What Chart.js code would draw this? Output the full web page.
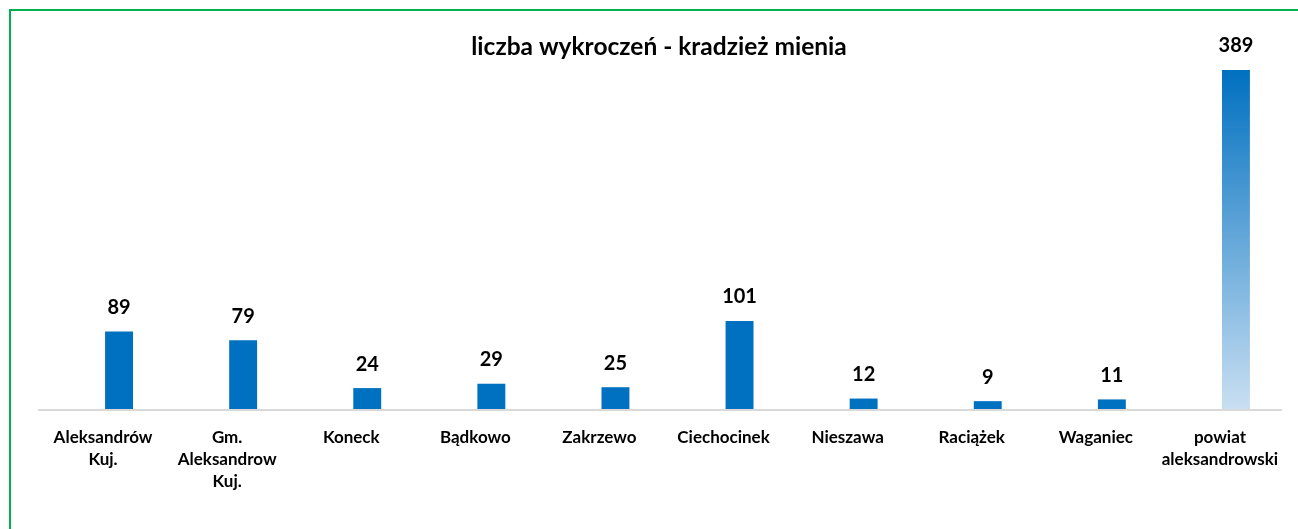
<!DOCTYPE html>
<html>
<head>
<meta charset="utf-8">
<script src="https://cdn.jsdelivr.net/npm/chart.js@4"></script>
<style>
  html, body { margin: 0; padding: 0; background: #fff; }
  #wrap { position: relative; width: 1298px; height: 529px; overflow: hidden; }
  #frame {
    position: absolute; left: 9px; top: 9px; right: -10px; bottom: -10px;
    border-left: 2px solid #00B050; border-top: 2px solid #00B050;
  }
  canvas { position: absolute; left: 0; top: 0; }
</style>
</head>
<body>
<div id="wrap">
  <div id="frame"></div>
  <canvas id="chart"></canvas>
</div>
<script>
const title = 'liczba wykroczeń - kradzież mienia';
const categories = [
  ['Aleksandrów', 'Kuj.'],
  ['Gm.', 'Aleksandrow', 'Kuj.'],
  'Koneck',
  'Bądkowo',
  'Zakrzewo',
  'Ciechocinek',
  'Nieszawa',
  'Raciążek',
  'Waganiec',
  ['powiat', 'aleksandrowski']
];
const values = [89, 79, 24, 29, 25, 101, 12, 9, 11, 389];

const FONT = 'Lato, "Open Sans", sans-serif';

const canvas = document.getElementById('chart');
canvas.width = 1298;
canvas.height = 529;
const ctx = canvas.getContext('2d');

function barColor(c) {
  const last = c.dataIndex === values.length - 1;
  if (!last) return '#0070C0';
  const area = c.chart.chartArea;
  if (!area) return '#0070C0';
  const g = c.chart.ctx.createLinearGradient(0, area.top, 0, area.bottom);
  g.addColorStop(0, '#0070C0');
  g.addColorStop(1, '#C9DFF2');
  return g;
}

// axis line (Excel draws it a bit left of the category band)
const axisPlugin = {
  id: 'axisLine',
  beforeDatasetsDraw(chart) {
    const a = chart.chartArea;
    const c = chart.ctx;
    c.save();
    c.strokeStyle = '#D9D9D9';
    c.lineWidth = 2;
    c.beginPath();
    c.moveTo(a.left - 19, a.bottom + 1);
    c.lineTo(a.right - 16, a.bottom + 1);
    c.stroke();
    c.restore();
  }
};

const labelsPlugin = {
  id: 'labels',
  afterDatasetsDraw(chart) {
    const c = chart.ctx;
    c.save();
    c.fillStyle = '#000';
    c.textAlign = 'center';
    c.textBaseline = 'middle';
    c.font = 'bold 20px ' + FONT;
    chart.getDatasetMeta(0).data.forEach((bar, i) => {
      c.fillText(String(values[i]), bar.x, bar.y - 24);
    });
    c.font = 'bold 24.5px ' + FONT;
    c.fillText(title, 659, 47);
    c.restore();
  }
};

new Chart(ctx, {
  type: 'bar',
  data: {
    labels: categories,
    datasets: [{
      data: values,
      backgroundColor: barColor,
      borderWidth: 0,
      categoryPercentage: 1,
      barPercentage: 0.225
    }]
  },
  options: {
    responsive: false,
    animation: false,
    layout: { padding: { left: 57, right: 0, top: 70, bottom: 0 } },
    plugins: {
      legend: { display: false },
      tooltip: { enabled: false }
    },
    scales: {
      y: {
        display: false,
        min: 0,
        max: 389
      },
      x: {
        grid: { display: false, drawTicks: false },
        border: { display: false },
        ticks: {
          color: '#000',
          padding: 17,
          labelOffset: -16,
          maxRotation: 0,
          autoSkip: false,
          font: { family: FONT, size: 17, weight: 'bold', lineHeight: 1.3 }
        },
        afterFit(scale) {
          scale.height = 120;
          scale.paddingLeft = 0;
          scale.paddingRight = 0;
        }
      }
    }
  },
  plugins: [axisPlugin, labelsPlugin]
});
</script>
</body>
</html>
